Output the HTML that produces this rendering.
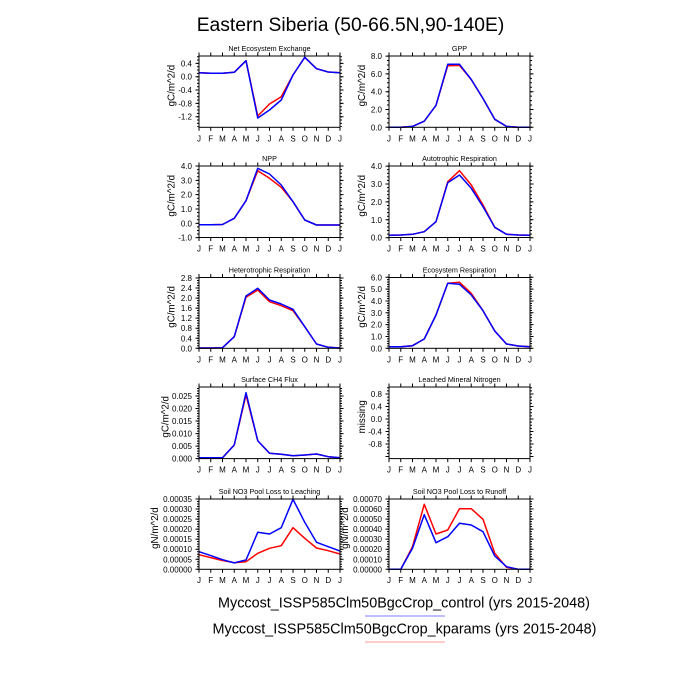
<!DOCTYPE html>
<html><head><meta charset="utf-8"><style>
html,body{margin:0;padding:0;background:#fff;}
svg{display:block;}
text{font-family:"Liberation Sans",sans-serif;fill:#000;}
.tl{font-size:8px;text-anchor:end;}
.ml{font-size:8px;text-anchor:middle;}
.pt{font-size:7.2px;text-anchor:middle;}
.yt{font-size:9.8px;text-anchor:middle;}
.r{fill:none;stroke:#ff0000;stroke-width:1.5;stroke-linejoin:round;}
.b{fill:none;stroke:#0000ff;stroke-width:1.5;stroke-linejoin:round;}
.box{fill:none;stroke:#000;stroke-width:1;}
.xt{stroke:#000;stroke-width:3.5;stroke-dasharray:1 10.75;}
</style></head><body>
<svg width="700" height="700" viewBox="0 0 700 700" xmlns="http://www.w3.org/2000/svg">
<rect width="700" height="700" fill="#fff"/>
<text x="350.5" y="31" style="font-size:19.3px;text-anchor:middle">Eastern Siberia (50-66.5N,90-140E)</text>

<!-- ===== Panel 1 NEE ===== -->
<g>
<text class="pt" x="269.5" y="51">Net Ecosystem Exchange</text>
<line class="xt" x1="198.5" x2="340.6" y1="54.25" y2="54.25"/>
<line class="xt" x1="198.5" x2="340.6" y1="129.05" y2="129.05"/>
<line x1="197.25" x2="197.25" y1="62.9" y2="127" stroke="#000" stroke-width="3.5" stroke-dasharray="1 12.33"/>
<line x1="341.75" x2="341.75" y1="62.9" y2="127" stroke="#000" stroke-width="3.5" stroke-dasharray="1 12.33"/>
<line x1="198" x2="198" y1="56.2" y2="127" stroke="#000" stroke-width="2" stroke-dasharray="1 2.333"/>
<line x1="341" x2="341" y1="56.2" y2="127" stroke="#000" stroke-width="2" stroke-dasharray="1 2.333"/>
<polyline class="r" points="199,72.7 210.75,73.3 222.5,73.3 234.25,72.3 246,60.7 257.75,116 269.5,104 281.25,96.7 293,75 304.75,57.3 316.5,68.7 328.25,72 340,72.7"/>
<polyline class="b" points="199,72.7 210.75,73.3 222.5,73.3 234.25,72.3 246,60.7 257.75,118 269.5,110 281.25,100 293,75 304.75,57.3 316.5,68.7 328.25,72 340,72.7"/>
<rect class="box" x="199" y="56" width="141" height="71.3"/>
<text class="tl" x="192" y="66.4">0.4</text>
<text class="tl" x="192" y="79.7">0.0</text>
<text class="tl" x="192" y="93">-0.4</text>
<text class="tl" x="192" y="106.4">-0.8</text>
<text class="tl" x="192" y="119.7">-1.2</text>
<text class="yt" transform="translate(174.5,85.6) rotate(-90)">gC/m^2/d</text>
<g class="ml"><text x="199" y="141.3">J</text><text x="210.75" y="141.3">F</text><text x="222.5" y="141.3">M</text><text x="234.25" y="141.3">A</text><text x="246" y="141.3">M</text><text x="257.75" y="141.3">J</text><text x="269.5" y="141.3">J</text><text x="281.25" y="141.3">A</text><text x="293" y="141.3">S</text><text x="304.75" y="141.3">O</text><text x="316.5" y="141.3">N</text><text x="328.25" y="141.3">D</text><text x="340" y="141.3">J</text></g>
</g>

<!-- ===== Panel 2 GPP ===== -->
<g>
<text class="pt" x="459.5" y="51">GPP</text>
<line class="xt" x1="388.5" x2="530.6" y1="54.25" y2="54.25"/>
<line class="xt" x1="388.5" x2="530.6" y1="129.05" y2="129.05"/>
<line x1="387.25" x2="387.25" y1="55.6" y2="128" stroke="#000" stroke-width="3.5" stroke-dasharray="1 16.8"/>
<line x1="531.75" x2="531.75" y1="55.6" y2="128" stroke="#000" stroke-width="3.5" stroke-dasharray="1 16.8"/>
<line x1="388" x2="388" y1="55.6" y2="128" stroke="#000" stroke-width="2" stroke-dasharray="1 3.45"/>
<line x1="531" x2="531" y1="55.6" y2="128" stroke="#000" stroke-width="2" stroke-dasharray="1 3.45"/>
<polyline class="r" points="389,127.3 400.75,127.3 412.5,126.4 424.25,121.2 436,105.3 447.75,65.7 459.5,65.4 471.25,79.5 483,98.5 494.75,119.3 506.5,126.4 518.25,127.3 530,127.3"/>
<polyline class="b" points="389,127.3 400.75,127.3 412.5,126.4 424.25,121.2 436,105.3 447.75,64.3 459.5,64.3 471.25,79.5 483,98.5 494.75,119.3 506.5,126.4 518.25,127.3 530,127.3"/>
<rect class="box" x="389" y="56" width="141" height="71.3"/>
<text class="tl" x="382" y="59.1">8.0</text>
<text class="tl" x="382" y="76.9">6.0</text>
<text class="tl" x="382" y="94.7">4.0</text>
<text class="tl" x="382" y="112.5">2.0</text>
<text class="tl" x="382" y="130.3">0.0</text>
<text class="yt" transform="translate(365,85.6) rotate(-90)">gC/m^2/d</text>
<g class="ml"><text x="389" y="141.3">J</text><text x="400.75" y="141.3">F</text><text x="412.5" y="141.3">M</text><text x="424.25" y="141.3">A</text><text x="436" y="141.3">M</text><text x="447.75" y="141.3">J</text><text x="459.5" y="141.3">J</text><text x="471.25" y="141.3">A</text><text x="483" y="141.3">S</text><text x="494.75" y="141.3">O</text><text x="506.5" y="141.3">N</text><text x="518.25" y="141.3">D</text><text x="530" y="141.3">J</text></g>
</g>

<!-- ===== Panel 3 NPP ===== -->
<g>
<text class="pt" x="269.5" y="161">NPP</text>
<line class="xt" x1="198.5" x2="340.6" y1="164.25" y2="164.25"/>
<line class="xt" x1="198.5" x2="340.6" y1="239.25" y2="239.25"/>
<line x1="197.25" x2="197.25" y1="165.5" y2="238.2" stroke="#000" stroke-width="3.5" stroke-dasharray="1 13.33"/>
<line x1="341.75" x2="341.75" y1="165.5" y2="238.2" stroke="#000" stroke-width="3.5" stroke-dasharray="1 13.33"/>
<line x1="198" x2="198" y1="165.5" y2="238" stroke="#000" stroke-width="2" stroke-dasharray="1 2.58"/>
<line x1="341" x2="341" y1="165.5" y2="238" stroke="#000" stroke-width="2" stroke-dasharray="1 2.58"/>
<polyline class="r" points="199,224.7 210.75,224.7 222.5,224.5 234.25,218.3 246,200.7 257.75,170.7 269.5,178.3 281.25,187.3 293,201.7 304.75,220 316.5,225 328.25,225 340,225"/>
<polyline class="b" points="199,224.7 210.75,224.7 222.5,224.5 234.25,218.3 246,200.7 257.75,168.3 269.5,174 281.25,185 293,201.7 304.75,220 316.5,225 328.25,225 340,225"/>
<rect class="box" x="199" y="166" width="141" height="71.5"/>
<text class="tl" x="192" y="169">4.0</text>
<text class="tl" x="192" y="183.3">3.0</text>
<text class="tl" x="192" y="197.7">2.0</text>
<text class="tl" x="192" y="212">1.0</text>
<text class="tl" x="192" y="226.3">0.0</text>
<text class="tl" x="192" y="240.6">-1.0</text>
<text class="yt" transform="translate(174.5,195.75) rotate(-90)">gC/m^2/d</text>
<g class="ml"><text x="199" y="251.5">J</text><text x="210.75" y="251.5">F</text><text x="222.5" y="251.5">M</text><text x="234.25" y="251.5">A</text><text x="246" y="251.5">M</text><text x="257.75" y="251.5">J</text><text x="269.5" y="251.5">J</text><text x="281.25" y="251.5">A</text><text x="293" y="251.5">S</text><text x="304.75" y="251.5">O</text><text x="316.5" y="251.5">N</text><text x="328.25" y="251.5">D</text><text x="340" y="251.5">J</text></g>
</g>

<!-- ===== Panel 4 Autotrophic ===== -->
<g>
<text class="pt" x="459.5" y="161">Autotrophic Respiration</text>
<line class="xt" x1="388.5" x2="530.6" y1="164.25" y2="164.25"/>
<line class="xt" x1="388.5" x2="530.6" y1="239.25" y2="239.25"/>
<line x1="387.25" x2="387.25" y1="165.6" y2="238.2" stroke="#000" stroke-width="3.5" stroke-dasharray="1 16.9"/>
<line x1="531.75" x2="531.75" y1="165.6" y2="238.2" stroke="#000" stroke-width="3.5" stroke-dasharray="1 16.9"/>
<line x1="388" x2="388" y1="165.6" y2="238" stroke="#000" stroke-width="2" stroke-dasharray="1 2.58"/>
<line x1="531" x2="531" y1="165.6" y2="238" stroke="#000" stroke-width="2" stroke-dasharray="1 2.58"/>
<polyline class="r" points="389,235.3 400.75,235 412.5,234.3 424.25,231.7 436,221.7 447.75,181.7 459.5,170.7 471.25,185 483,205 494.75,227.3 506.5,234.3 518.25,235 530,235.3"/>
<polyline class="b" points="389,235.3 400.75,235 412.5,234.3 424.25,231.7 436,221.7 447.75,182.7 459.5,175 471.25,188.3 483,206.7 494.75,227.3 506.5,234.3 518.25,235 530,235.3"/>
<rect class="box" x="389" y="166" width="141" height="71.5"/>
<text class="tl" x="382" y="169.1">4.0</text>
<text class="tl" x="382" y="187">3.0</text>
<text class="tl" x="382" y="204.9">2.0</text>
<text class="tl" x="382" y="222.8">1.0</text>
<text class="tl" x="382" y="240.7">0.0</text>
<text class="yt" transform="translate(365,195.75) rotate(-90)">gC/m^2/d</text>
<g class="ml"><text x="389" y="251.5">J</text><text x="400.75" y="251.5">F</text><text x="412.5" y="251.5">M</text><text x="424.25" y="251.5">A</text><text x="436" y="251.5">M</text><text x="447.75" y="251.5">J</text><text x="459.5" y="251.5">J</text><text x="471.25" y="251.5">A</text><text x="483" y="251.5">S</text><text x="494.75" y="251.5">O</text><text x="506.5" y="251.5">N</text><text x="518.25" y="251.5">D</text><text x="530" y="251.5">J</text></g>
</g>

<!-- ===== Panel 5 Heterotrophic ===== -->
<g>
<text class="pt" x="269.5" y="272.5">Heterotrophic Respiration</text>
<line class="xt" x1="198.5" x2="340.6" y1="275.75" y2="275.75"/>
<line class="xt" x1="198.5" x2="340.6" y1="350.05" y2="350.05"/>
<line x1="197.25" x2="197.25" y1="277.5" y2="349" stroke="#000" stroke-width="3.5" stroke-dasharray="1 9.04"/>
<line x1="341.75" x2="341.75" y1="277.5" y2="349" stroke="#000" stroke-width="3.5" stroke-dasharray="1 9.04"/>
<line x1="198" x2="198" y1="277.5" y2="349" stroke="#000" stroke-width="2" stroke-dasharray="1 1.51"/>
<line x1="341" x2="341" y1="277.5" y2="349" stroke="#000" stroke-width="2" stroke-dasharray="1 1.51"/>
<polyline class="r" points="199,348 210.75,348 222.5,347.7 234.25,336.7 246,297.3 257.75,290 269.5,301.7 281.25,305.7 293,310.7 304.75,326.7 316.5,344 328.25,347.3 340,348"/>
<polyline class="b" points="199,348 210.75,348 222.5,347.7 234.25,336.7 246,296 257.75,288.3 269.5,300 281.25,304 293,309.3 304.75,326.7 316.5,344 328.25,347.3 340,348"/>
<rect class="box" x="199" y="277.5" width="141" height="70.8"/>
<text class="tl" x="192" y="281">2.8</text>
<text class="tl" x="192" y="291.1">2.4</text>
<text class="tl" x="192" y="301.1">2.0</text>
<text class="tl" x="192" y="311.1">1.6</text>
<text class="tl" x="192" y="321.2">1.2</text>
<text class="tl" x="192" y="331.2">0.8</text>
<text class="tl" x="192" y="341.3">0.4</text>
<text class="tl" x="192" y="351.3">0.0</text>
<text class="yt" transform="translate(174.5,306.9) rotate(-90)">gC/m^2/d</text>
<g class="ml"><text x="199" y="362.3">J</text><text x="210.75" y="362.3">F</text><text x="222.5" y="362.3">M</text><text x="234.25" y="362.3">A</text><text x="246" y="362.3">M</text><text x="257.75" y="362.3">J</text><text x="269.5" y="362.3">J</text><text x="281.25" y="362.3">A</text><text x="293" y="362.3">S</text><text x="304.75" y="362.3">O</text><text x="316.5" y="362.3">N</text><text x="328.25" y="362.3">D</text><text x="340" y="362.3">J</text></g>
</g>

<!-- ===== Panel 6 Ecosystem Resp ===== -->
<g>
<text class="pt" x="459.5" y="272.5">Ecosystem Respiration</text>
<line class="xt" x1="388.5" x2="530.6" y1="275.75" y2="275.75"/>
<line class="xt" x1="388.5" x2="530.6" y1="350.05" y2="350.05"/>
<line x1="387.25" x2="387.25" y1="276.8" y2="349" stroke="#000" stroke-width="3.5" stroke-dasharray="1 10.83"/>
<line x1="531.75" x2="531.75" y1="276.8" y2="349" stroke="#000" stroke-width="3.5" stroke-dasharray="1 10.83"/>
<line x1="388" x2="388" y1="276.8" y2="349" stroke="#000" stroke-width="2" stroke-dasharray="1 1.37"/>
<line x1="531" x2="531" y1="276.8" y2="349" stroke="#000" stroke-width="2" stroke-dasharray="1 1.37"/>
<polyline class="r" points="389,346.7 400.75,346.7 412.5,345.7 424.25,339 436,315 447.75,283.3 459.5,282.3 471.25,293.3 483,310.7 494.75,331 506.5,344 518.25,346 530,346.7"/>
<polyline class="b" points="389,346.7 400.75,346.7 412.5,345.7 424.25,339 436,315 447.75,283.3 459.5,284.3 471.25,295 483,310.7 494.75,331 506.5,344 518.25,346 530,346.7"/>
<rect class="box" x="389" y="277.5" width="141" height="70.8"/>
<text class="tl" x="382" y="280.3">6.0</text>
<text class="tl" x="382" y="292.2">5.0</text>
<text class="tl" x="382" y="304">4.0</text>
<text class="tl" x="382" y="315.8">3.0</text>
<text class="tl" x="382" y="327.7">2.0</text>
<text class="tl" x="382" y="339.5">1.0</text>
<text class="tl" x="382" y="351.3">0.0</text>
<text class="yt" transform="translate(365,306.9) rotate(-90)">gC/m^2/d</text>
<g class="ml"><text x="389" y="362.3">J</text><text x="400.75" y="362.3">F</text><text x="412.5" y="362.3">M</text><text x="424.25" y="362.3">A</text><text x="436" y="362.3">M</text><text x="447.75" y="362.3">J</text><text x="459.5" y="362.3">J</text><text x="471.25" y="362.3">A</text><text x="483" y="362.3">S</text><text x="494.75" y="362.3">O</text><text x="506.5" y="362.3">N</text><text x="518.25" y="362.3">D</text><text x="530" y="362.3">J</text></g>
</g>

<!-- ===== Panel 7 CH4 ===== -->
<g>
<text class="pt" x="269.5" y="382">Surface CH4 Flux</text>
<line class="xt" x1="198.5" x2="340.6" y1="385.25" y2="385.25"/>
<line class="xt" x1="198.5" x2="340.6" y1="460.35" y2="460.35"/>
<line x1="197.25" x2="197.25" y1="395.5" y2="459.3" stroke="#000" stroke-width="3.5" stroke-dasharray="1 11.53"/>
<line x1="341.75" x2="341.75" y1="395.5" y2="459.3" stroke="#000" stroke-width="3.5" stroke-dasharray="1 11.53"/>
<line x1="198" x2="198" y1="388" y2="459.3" stroke="#000" stroke-width="2" stroke-dasharray="1 1.506"/>
<line x1="341" x2="341" y1="388" y2="459.3" stroke="#000" stroke-width="2" stroke-dasharray="1 1.506"/>
<polyline class="r" points="199,457.7 210.75,457.7 222.5,457.7 234.25,445 246,395 257.75,440.7 269.5,453.3 281.25,454.3 293,455.7 304.75,455 316.5,454 328.25,456.7 340,457.7"/>
<polyline class="b" points="199,457.7 210.75,457.7 222.5,457.7 234.25,445 246,392.7 257.75,440.7 269.5,453.3 281.25,454.3 293,455.7 304.75,455 316.5,454 328.25,456.7 340,457.7"/>
<rect class="box" x="199" y="387" width="141" height="71.6"/>
<text class="tl" x="192" y="399">0.025</text>
<text class="tl" x="192" y="411.6">0.020</text>
<text class="tl" x="192" y="424.1">0.015</text>
<text class="tl" x="192" y="436.6">0.010</text>
<text class="tl" x="192" y="449.2">0.005</text>
<text class="tl" x="192" y="461.7">0.000</text>
<text class="yt" transform="translate(168.5,416.8) rotate(-90)">gC/m^2/d</text>
<g class="ml"><text x="199" y="472.6">J</text><text x="210.75" y="472.6">F</text><text x="222.5" y="472.6">M</text><text x="234.25" y="472.6">A</text><text x="246" y="472.6">M</text><text x="257.75" y="472.6">J</text><text x="269.5" y="472.6">J</text><text x="281.25" y="472.6">A</text><text x="293" y="472.6">S</text><text x="304.75" y="472.6">O</text><text x="316.5" y="472.6">N</text><text x="328.25" y="472.6">D</text><text x="340" y="472.6">J</text></g>
</g>

<!-- ===== Panel 8 Leached (missing) ===== -->
<g>
<text class="pt" x="459.5" y="382">Leached Mineral Nitrogen</text>
<line class="xt" x1="388.5" x2="530.6" y1="385.25" y2="385.25"/>
<line class="xt" x1="388.5" x2="530.6" y1="460.35" y2="460.35"/>
<line x1="387.25" x2="387.25" y1="393.5" y2="459" stroke="#000" stroke-width="3.5" stroke-dasharray="1 11.5"/>
<line x1="531.75" x2="531.75" y1="393.5" y2="459" stroke="#000" stroke-width="3.5" stroke-dasharray="1 11.5"/>
<line x1="388" x2="388" y1="387.25" y2="459" stroke="#000" stroke-width="2" stroke-dasharray="1 2.125"/>
<line x1="531" x2="531" y1="387.25" y2="459" stroke="#000" stroke-width="2" stroke-dasharray="1 2.125"/>
<rect class="box" x="389" y="387" width="141" height="71.6"/>
<text class="tl" x="382" y="397">0.8</text>
<text class="tl" x="382" y="409.5">0.4</text>
<text class="tl" x="382" y="422">0.0</text>
<text class="tl" x="382" y="434.5">-0.4</text>
<text class="tl" x="382" y="447">-0.8</text>
<text class="yt" transform="translate(365,416.8) rotate(-90)">missing</text>
<g class="ml"><text x="389" y="472.6">J</text><text x="400.75" y="472.6">F</text><text x="412.5" y="472.6">M</text><text x="424.25" y="472.6">A</text><text x="436" y="472.6">M</text><text x="447.75" y="472.6">J</text><text x="459.5" y="472.6">J</text><text x="471.25" y="472.6">A</text><text x="483" y="472.6">S</text><text x="494.75" y="472.6">O</text><text x="506.5" y="472.6">N</text><text x="518.25" y="472.6">D</text><text x="530" y="472.6">J</text></g>
</g>

<!-- ===== Panel 9 Leaching ===== -->
<g>
<text class="pt" x="269.5" y="494">Soil NO3 Pool Loss to Leaching</text>
<line class="xt" x1="198.5" x2="340.6" y1="497.25" y2="497.25"/>
<line class="xt" x1="198.5" x2="340.6" y1="571.05" y2="571.05"/>
<line x1="197.25" x2="197.25" y1="498.5" y2="570" stroke="#000" stroke-width="3.5" stroke-dasharray="1 9.04"/>
<line x1="341.75" x2="341.75" y1="498.5" y2="570" stroke="#000" stroke-width="3.5" stroke-dasharray="1 9.04"/>
<line x1="198" x2="198" y1="498.5" y2="570" stroke="#000" stroke-width="2" stroke-dasharray="1 1.51"/>
<line x1="341" x2="341" y1="498.5" y2="570" stroke="#000" stroke-width="2" stroke-dasharray="1 1.51"/>
<polyline class="r" points="199,554.7 210.75,557.6 222.5,560.5 234.25,562.7 246,561.7 257.75,553.3 269.5,548.3 281.25,545.7 293,527.7 304.75,538.3 316.5,548 328.25,550.7 340,554"/>
<polyline class="b" points="199,551.7 210.75,555.6 222.5,559.7 234.25,562.9 246,560 257.75,532.3 269.5,534 281.25,527.7 293,499.3 304.75,522.3 316.5,542.3 328.25,546.7 340,551"/>
<rect class="box" x="199" y="499" width="141" height="70.3"/>
<text class="tl" x="192" y="502">0.00035</text>
<text class="tl" x="192" y="512.1">0.00030</text>
<text class="tl" x="192" y="522.1">0.00025</text>
<text class="tl" x="192" y="532.1">0.00020</text>
<text class="tl" x="192" y="542.2">0.00015</text>
<text class="tl" x="192" y="552.2">0.00010</text>
<text class="tl" x="192" y="562.3">0.00005</text>
<text class="tl" x="192" y="572.3">0.00000</text>
<text class="yt" transform="translate(158,528.1) rotate(-90)">gN/m^2/d</text>
<g class="ml"><text x="199" y="583">J</text><text x="210.75" y="583">F</text><text x="222.5" y="583">M</text><text x="234.25" y="583">A</text><text x="246" y="583">M</text><text x="257.75" y="583">J</text><text x="269.5" y="583">J</text><text x="281.25" y="583">A</text><text x="293" y="583">S</text><text x="304.75" y="583">O</text><text x="316.5" y="583">N</text><text x="328.25" y="583">D</text><text x="340" y="583">J</text></g>
</g>

<!-- ===== Panel 10 Runoff ===== -->
<g>
<text class="pt" x="459.5" y="494">Soil NO3 Pool Loss to Runoff</text>
<line class="xt" x1="388.5" x2="530.6" y1="497.25" y2="497.25"/>
<line class="xt" x1="388.5" x2="530.6" y1="571.05" y2="571.05"/>
<line x1="387.25" x2="387.25" y1="498.5" y2="570" stroke="#000" stroke-width="3.5" stroke-dasharray="1 9.04"/>
<line x1="531.75" x2="531.75" y1="498.5" y2="570" stroke="#000" stroke-width="3.5" stroke-dasharray="1 9.04"/>
<line x1="388" x2="388" y1="498.5" y2="570" stroke="#000" stroke-width="2" stroke-dasharray="1 1.51"/>
<line x1="531" x2="531" y1="498.5" y2="570" stroke="#000" stroke-width="2" stroke-dasharray="1 1.51"/>
<polyline class="r" points="389,569.3 400.75,569.3 412.5,546.7 424.25,504.3 436,534 447.75,530 459.5,508.7 471.25,508.7 483,519.3 494.75,553.3 506.5,567.3 518.25,569.3 530,569.3"/>
<polyline class="b" points="389,569.3 400.75,569.3 412.5,548.3 424.25,514.7 436,542.7 447.75,536.7 459.5,523.3 471.25,525 483,531.7 494.75,556 506.5,566.7 518.25,569.3 530,569.3"/>
<rect class="box" x="389" y="499" width="141" height="70.3"/>
<text class="tl" x="382" y="502">0.00070</text>
<text class="tl" x="382" y="512">0.00060</text>
<text class="tl" x="382" y="522.1">0.00050</text>
<text class="tl" x="382" y="532.1">0.00040</text>
<text class="tl" x="382" y="542.2">0.00030</text>
<text class="tl" x="382" y="552.2">0.00020</text>
<text class="tl" x="382" y="562.3">0.00010</text>
<text class="tl" x="382" y="572.3">0.00000</text>
<text class="yt" transform="translate(348,528.1) rotate(-90)">gN/m^2/d</text>
<g class="ml"><text x="389" y="583">J</text><text x="400.75" y="583">F</text><text x="412.5" y="583">M</text><text x="424.25" y="583">A</text><text x="436" y="583">M</text><text x="447.75" y="583">J</text><text x="459.5" y="583">J</text><text x="471.25" y="583">A</text><text x="483" y="583">S</text><text x="494.75" y="583">O</text><text x="506.5" y="583">N</text><text x="518.25" y="583">D</text><text x="530" y="583">J</text></g>
</g>

<!-- ===== Legend ===== -->
<text x="404" y="607.7" style="font-size:14.4px;text-anchor:middle">Myccost_ISSP585Clm50BgcCrop_control (yrs 2015-2048)</text>
<line x1="365" x2="445" y1="616" y2="616" stroke="#7f7fff" stroke-width="1"/>
<text x="404.5" y="633.3" style="font-size:14.4px;text-anchor:middle">Myccost_ISSP585Clm50BgcCrop_kparams (yrs 2015-2048)</text>
<line x1="365" x2="445" y1="642" y2="642" stroke="#ff9a9a" stroke-width="1"/>
</svg>
</body></html>
